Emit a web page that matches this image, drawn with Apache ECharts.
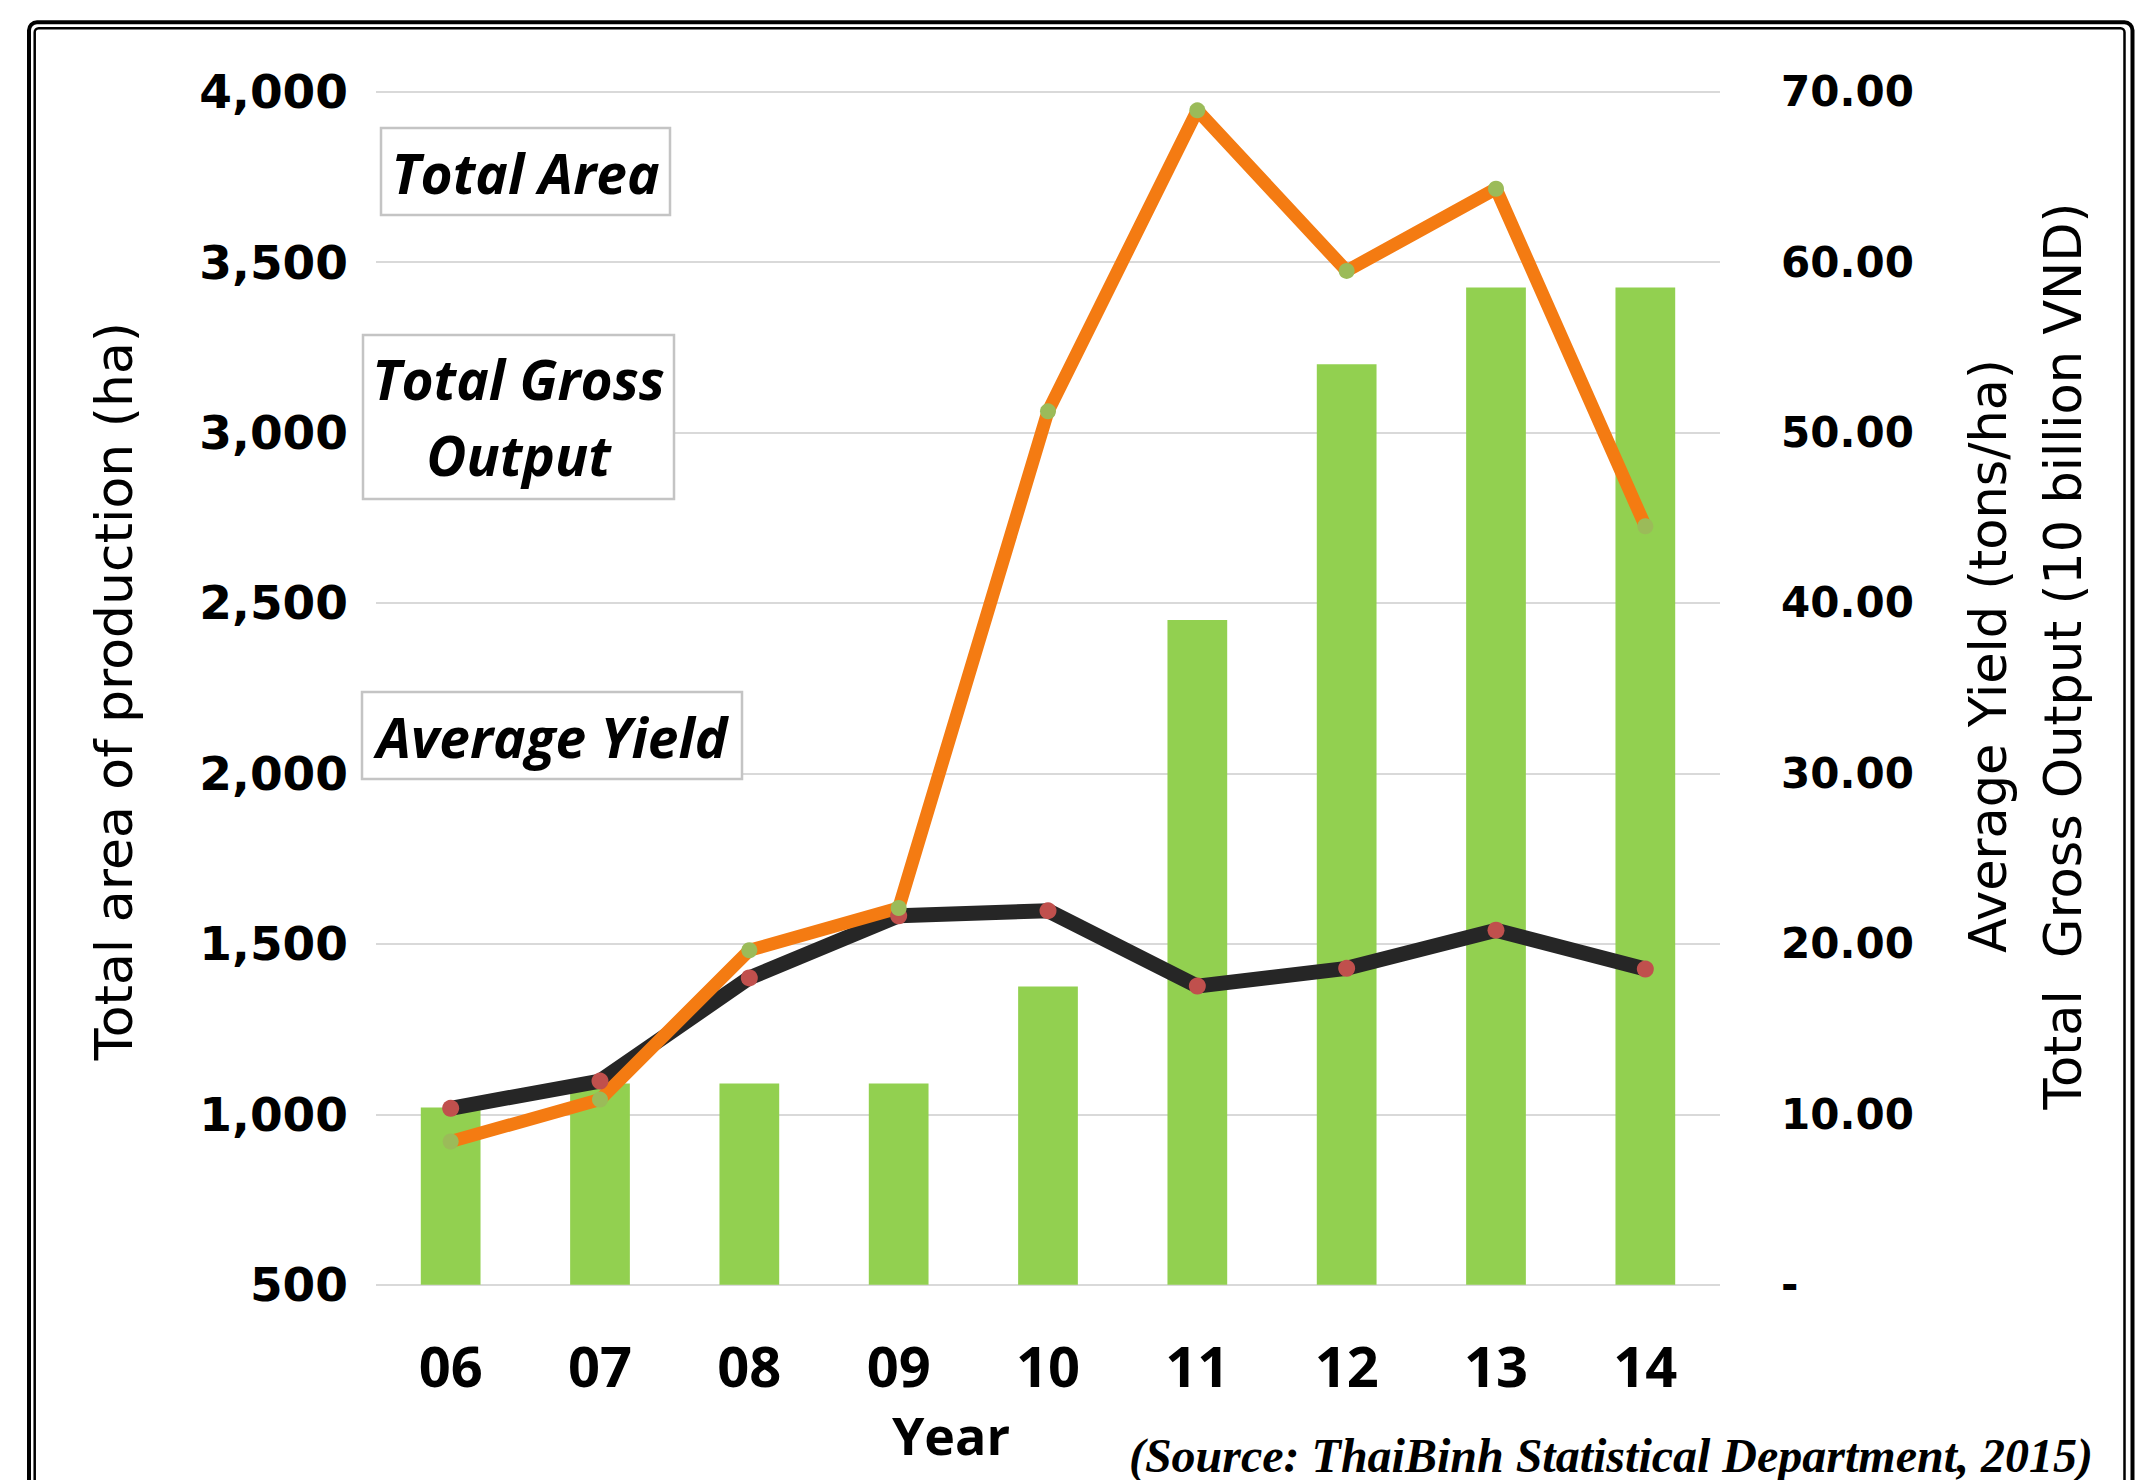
<!DOCTYPE html>
<html>
<head>
<meta charset="utf-8">
<script src="https://cdn.jsdelivr.net/npm/echarts@6/dist/echarts.min.js"></script>
<style>
html,body{margin:0;padding:0;background:#fff;}
#chart{width:2143px;height:1480px;}
</style>
</head>
<body>
<div id="chart"></div>
<script>
// ---- data ----
const years = ['06', '07', '08', '09', '10', '11', '12', '13', '14'];
const grossOutput = [10.4, 11.8, 11.8, 11.8, 17.5, 39.0, 54.0, 58.5, 58.5];      // right axis, 10 billion VND
const totalArea = [920, 1043, 1481, 1605, 3062, 3945, 3474, 3715, 2725];          // left axis, ha
const avgYield = [10.35, 11.95, 18.0, 21.64, 21.94, 17.52, 18.56, 20.8, 18.52];   // right axis, tons/ha
const leftTicks = [500, 1000, 1500, 2000, 2500, 3000, 3500, 4000];
const rightTicks = [0, 10, 20, 30, 40, 50, 60, 70];
const leftAxisName = 'Total area of production (ha)';
const rightAxisNames = ['Average Yield (tons/ha)', 'Total  Gross Output (10 billion VND)'];
const xAxisName = 'Year';
const annotations = ['Total Area', 'Total Gross\nOutput', 'Average Yield'];
const sourceNote = '(Source: ThaiBinh Statistical Department, 2015)';

const chart = echarts.init(document.getElementById('chart'), null, {renderer: 'svg'});

function txt(x, y, text, font, align, vAlign, extra) {
  return Object.assign({
    type: 'text', x: x, y: y, z: 100,
    style: {
      text: text, font: font, fill: '#000',
      align: align, textAlign: align,
      verticalAlign: vAlign, textVerticalAlign: vAlign
    }
  }, extra || {});
}
function box(x, y, w, h, text, cy, lh) {
  return {
    type: 'group', z: 90,
    children: [
      {type: 'rect', shape: {x: x, y: y, width: w, height: h},
       style: {fill: '#fff', stroke: '#c4c4c4', lineWidth: 2.5}, z: 90},
      {type: 'text', x: x + w / 2, y: cy, z: 91,
       style: {text: text, font: 'italic bold 55px "Open Sans"', fill: '#000',
               align: 'center', textAlign: 'center',
               verticalAlign: 'middle', textVerticalAlign: 'middle',
               lineHeight: lh || 60}}
    ]
  };
}

const rightNames = txt(2026, 656, rightAxisNames.join('\n'), '51px "DejaVu Sans"', 'center', 'middle', {rotation: Math.PI / 2});
rightNames.style.lineHeight = 75;

const option = {
  animation: false,
  backgroundColor: '#fff',
  grid: {left: 376, right: 423, top: 91.6, bottom: 195.3, containLabel: false},
  xAxis: {
    type: 'category',
    data: years,
    axisLine: {show: false},
    axisTick: {show: false},
    axisLabel: {fontFamily: 'Open Sans', fontWeight: 'bold', fontSize: 56, color: '#000', margin: 52}
  },
  yAxis: [
    {
      type: 'value',
      min: leftTicks[0], max: leftTicks[leftTicks.length - 1], interval: leftTicks[1] - leftTicks[0],
      axisLine: {show: false}, axisTick: {show: false},
      splitLine: {lineStyle: {color: '#d9d9d9', width: 2}},
      axisLabel: {
        fontFamily: 'DejaVu Sans', fontWeight: 'bold', fontSize: 47, color: '#000', margin: 28,
        formatter: v => v.toLocaleString('en-US')
      }
    },
    {
      type: 'value', position: 'right',
      min: rightTicks[0], max: rightTicks[rightTicks.length - 1], interval: rightTicks[1] - rightTicks[0],
      axisLine: {show: false}, axisTick: {show: false},
      splitLine: {show: false},
      axisLabel: {
        fontFamily: 'DejaVu Sans', fontWeight: 'bold', fontSize: 42, color: '#000', margin: 61,
        formatter: v => (v === 0 ? '-' : v.toFixed(2))
      }
    }
  ],
  series: [
    {
      name: 'Total Gross Output', type: 'bar', yAxisIndex: 1,
      data: grossOutput, barWidth: '40%',
      itemStyle: {color: '#92D050'}
    },
    {
      name: 'Average Yield', type: 'line', yAxisIndex: 1,
      data: avgYield,
      lineStyle: {color: '#262626', width: 15},
      symbol: 'circle', symbolSize: 17,
      itemStyle: {color: '#C0504D', borderWidth: 0}
    },
    {
      name: 'Total Area', type: 'line', yAxisIndex: 0,
      data: totalArea,
      lineStyle: {color: '#F47B12', width: 13},
      symbol: 'circle', symbolSize: 16,
      itemStyle: {color: '#9BBB59', borderWidth: 0}
    }
  ],
  graphic: [
    // double frame
    {type: 'rect', shape: {x: 29, y: 22.3, width: 2103.5, height: 1520, r: 8},
     style: {fill: 'none', stroke: '#000', lineWidth: 4}, z: 50},
    {type: 'rect', shape: {x: 34.7, y: 28.3, width: 2089.8, height: 1520, r: 4},
     style: {fill: 'none', stroke: '#000', lineWidth: 2.5}, z: 50},
    // axis names
    txt(114, 691, leftAxisName, '52px "DejaVu Sans"', 'center', 'middle', {rotation: Math.PI / 2}),
    rightNames,
    txt(951, 1434, xAxisName, 'bold 52px "Open Sans"', 'center', 'middle'),
    txt(2093, 1455, sourceNote, 'italic bold 48px "Liberation Serif"', 'right', 'middle'),
    // annotation boxes
    box(381, 128, 289, 87, annotations[0], 172),
    box(363, 335, 311, 164, annotations[1], 416, 76),
    box(362, 692, 380, 87, annotations[2], 736)
  ]
};
chart.setOption(option);
</script>
</body>
</html>
